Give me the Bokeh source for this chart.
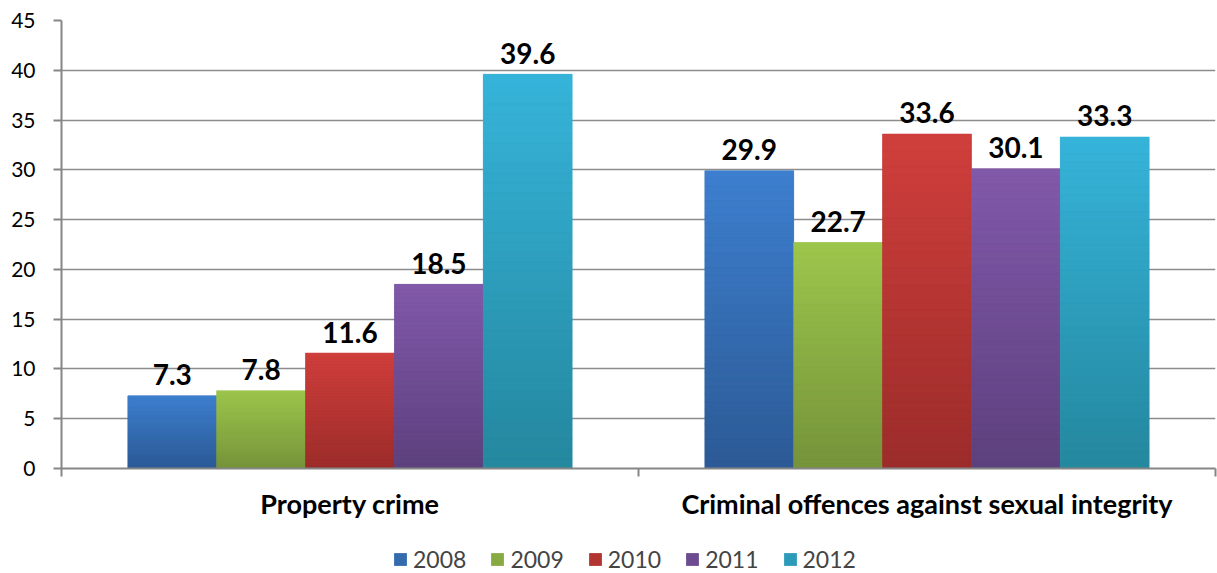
from bokeh.plotting import figure
from bokeh.models import (FixedTicker, Legend, LegendItem, Range1d)
from bokeh.layouts import column
from bokeh.embed import file_html
from bokeh.resources import INLINE

categories = ["Property crime", "Criminal offences against sexual integrity"]
years = ["2008", "2009", "2010", "2011", "2012"]
values = {
    "2008": [7.3, 29.9],
    "2009": [7.8, 22.7],
    "2010": [11.6, 33.6],
    "2011": [18.5, 30.1],
    "2012": [39.6, 33.3],
}
y_ticks = [0, 5, 10, 15, 20, 25, 30, 35, 40, 45]

top_colors = ["#3d7fcf", "#9dc64c", "#d03f3c", "#8159aa", "#36b4da"]
bot_colors = ["#2c5a95", "#75933a", "#9b2c2a", "#5d407d", "#24879e"]

FONT = "Lato"

p = figure(width=1217, height=530, output_backend="svg", toolbar_location=None,
           x_range=Range1d(0, 2), y_range=Range1d(0, 45),
           min_border_left=61, min_border_right=2, min_border_top=20, min_border_bottom=62)
p.outline_line_color = None
p.background_fill_color = "white"
p.border_fill_color = "white"

# legend-only strip below the chart
p2 = figure(width=1217, height=43, output_backend="svg", toolbar_location=None,
            x_range=Range1d(0, 2), y_range=Range1d(1000, 1001),
            min_border_left=0, min_border_right=0, min_border_top=0, min_border_bottom=0)
p2.axis.visible = False
p2.grid.visible = False
p2.outline_line_color = None
p2.border_fill_color = "white"

def hx(c):
    return tuple(int(c[i:i + 2], 16) for i in (1, 3, 5))

def mix(a, b, t):
    ca, cb = hx(a), hx(b)
    return "#%02x%02x%02x" % tuple(int(round(ca[i] + (cb[i] - ca[i]) * t)) for i in range(3))

w = 0.154
N = 40
legend_items = []
for k, yr in enumerate(years):
    off = (k - 2) * w
    xs = [i + 0.5 + off for i in range(len(categories))]
    vals = values[yr]
    mid = mix(bot_colors[k], top_colors[k], 0.45)
    p.vbar(x=xs, top=vals, width=w, fill_color=mid, line_color=None)
    l, r, b, t, c = [], [], [], [], []
    for x, v in zip(xs, vals):
        for j in range(N):
            l.append(x - w / 2); r.append(x + w / 2)
            b.append(v * j / N); t.append(v * (j + 1) / N)
            c.append(mix(bot_colors[k], top_colors[k], (j + 0.5) / N))
    p.quad(left=l, right=r, bottom=b, top=t, fill_color=c, line_color=c, line_width=0.5)
    p.text(x=xs, y=vals, text=[f"{v:.1f}" for v in vals], text_align="center",
           text_baseline="alphabetic", y_offset=-21, text_font_size="28px",
           text_font_style="bold", text_color="black", text_font={"value": FONT})
    key = p2.vbar(x=xs, top=vals, width=w, fill_color=mid, line_color=None)
    legend_items.append(LegendItem(label=yr, renderers=[key]))

# y axis
p.yaxis.ticker = FixedTicker(ticks=y_ticks)
p.yaxis.major_tick_out = 8
p.yaxis.major_tick_in = 0
p.yaxis.minor_tick_line_color = None
p.yaxis.axis_line_color = "#868686"
p.yaxis.axis_line_width = 2
p.yaxis.major_tick_line_color = "#868686"
p.yaxis.major_tick_line_width = 2
p.yaxis.major_label_text_font = FONT
p.yaxis.major_label_text_font_size = "21px"
p.yaxis.major_label_text_color = "black"
p.yaxis.major_label_standoff = 18

p.ygrid.ticker = FixedTicker(ticks=y_ticks)
p.ygrid.grid_line_color = "#8c8c8c"
p.ygrid.grid_line_width = 1.6
p.xgrid.grid_line_color = None

# x axis
p.xaxis.ticker = FixedTicker(ticks=[0.5, 1.5], minor_ticks=[0, 1, 2])
p.xaxis.major_label_overrides = {0.5: categories[0], 1.5: categories[1]}
p.xaxis.major_tick_line_color = None
p.xaxis.major_tick_out = 0
p.xaxis.major_tick_in = 0
p.xaxis.minor_tick_out = 8
p.xaxis.minor_tick_in = 0
p.xaxis.minor_tick_line_color = "#868686"
p.xaxis.minor_tick_line_width = 2
p.xaxis.axis_line_color = "#868686"
p.xaxis.axis_line_width = 2
p.xaxis.major_label_text_font = FONT
p.xaxis.major_label_text_font_size = "27px"
p.xaxis.major_label_text_font_style = "bold"
p.xaxis.major_label_text_color = "black"
p.xaxis.major_label_standoff = 10

legend = Legend(items=legend_items, orientation="horizontal", location=(331, 0),
                glyph_width=16, glyph_height=16, label_text_font=FONT,
                label_text_font_size="23px", spacing=23, label_standoff=5,
                border_line_color=None, background_fill_alpha=0, padding=0, margin=0)
p2.add_layout(legend, "center")

open("out.html", "w").write(file_html(column(p, p2, spacing=0), INLINE))
